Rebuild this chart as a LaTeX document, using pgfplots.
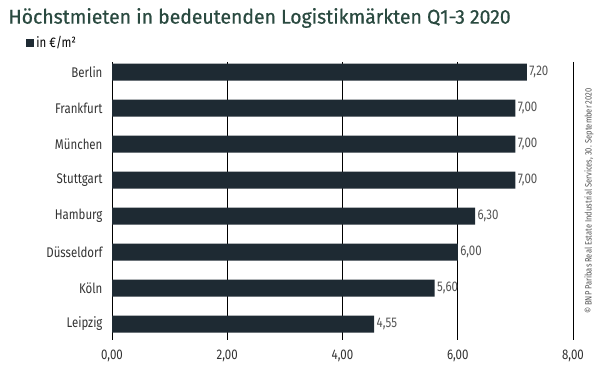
\documentclass[border=0pt]{standalone}
\usepackage{fontspec}
\setmainfont{Fira Sans}[FakeStretch=0.82]
\newfontfamily\titlefont{Fira Sans}[FakeBold=0.6,FakeStretch=0.97]
\usepackage{pgfplots}
\pgfplotsset{compat=1.18}
\definecolor{barc}{HTML}{1E2A33}
\definecolor{titlec}{HTML}{2A4A40}
\definecolor{lblc}{HTML}{555555}
\begin{document}
\begin{tikzpicture}
\useasboundingbox (0pt,0pt) rectangle (600pt,370pt);
\node[anchor=west,text=titlec,font=\titlefont\fontsize{20}{22}\selectfont] at (5pt,352pt) {Höchstmieten in bedeutenden Logistikmärkten Q1-3 2020};
\node[rotate=90,text=lblc,font=\fontsize{9.2}{10}\selectfont] at (589pt,169pt) {© BNP Paribas Real Estate Industrial Services, 30. September 2020};
\begin{axis}[
  at={(112pt,30pt)}, anchor=south west,
  scale only axis, width=461pt, height=278pt,
  xbar, bar width=17pt,
  y dir=reverse,
  xmin=0, xmax=8, ymin=-0.278, ymax=7.444,
  xtick={0,2,4,6,8},
  ytick={0,...,7},
  yticklabels={Berlin,Frankfurt,München,Stuttgart,Hamburg,Düsseldorf,Köln,Leipzig},
  major tick length=0,
  axis line style={draw=none},
  xmajorgrids, grid style={black, line width=0.8pt},
  ticklabel style={font=\fontsize{14}{16}\selectfont, text=black!80},
  /pgf/number format/assume math mode=true,
  xticklabel={\pgfmathprintnumber[fixed,fixed zerofill,precision=2,use comma]{\tick}},
  xticklabel style={yshift=-6pt},
  yticklabel style={xshift=-6pt},
  nodes near coords={\pgfmathprintnumber[fixed,fixed zerofill,precision=2,use comma]{\pgfplotspointmeta}},
  nodes near coords style={font=\fontsize{14}{16}\selectfont, text=lblc, anchor=west, xshift=-1pt},
  point meta=explicit,
  legend style={at={(-0.186,1.068)}, anchor=west, draw=none, fill=none, font=\fontsize{14}{16}\selectfont, inner sep=0pt},
  legend cell align=left,
]
\addplot[fill=barc, draw=none,
  legend image code/.code={\fill[barc] (0pt,-4pt) rectangle (8pt,4pt);}] coordinates {
(7.20,0) [7.20]
(7.00,1) [7.00]
(7.00,2) [7.00]
(7.00,3) [7.00]
(6.30,4) [6.30]
(6.00,5) [6.00]
(5.60,6) [5.60]
(4.55,7) [4.55]
};
\legend{in €/m²}
\end{axis}
\end{tikzpicture}
\end{document}
